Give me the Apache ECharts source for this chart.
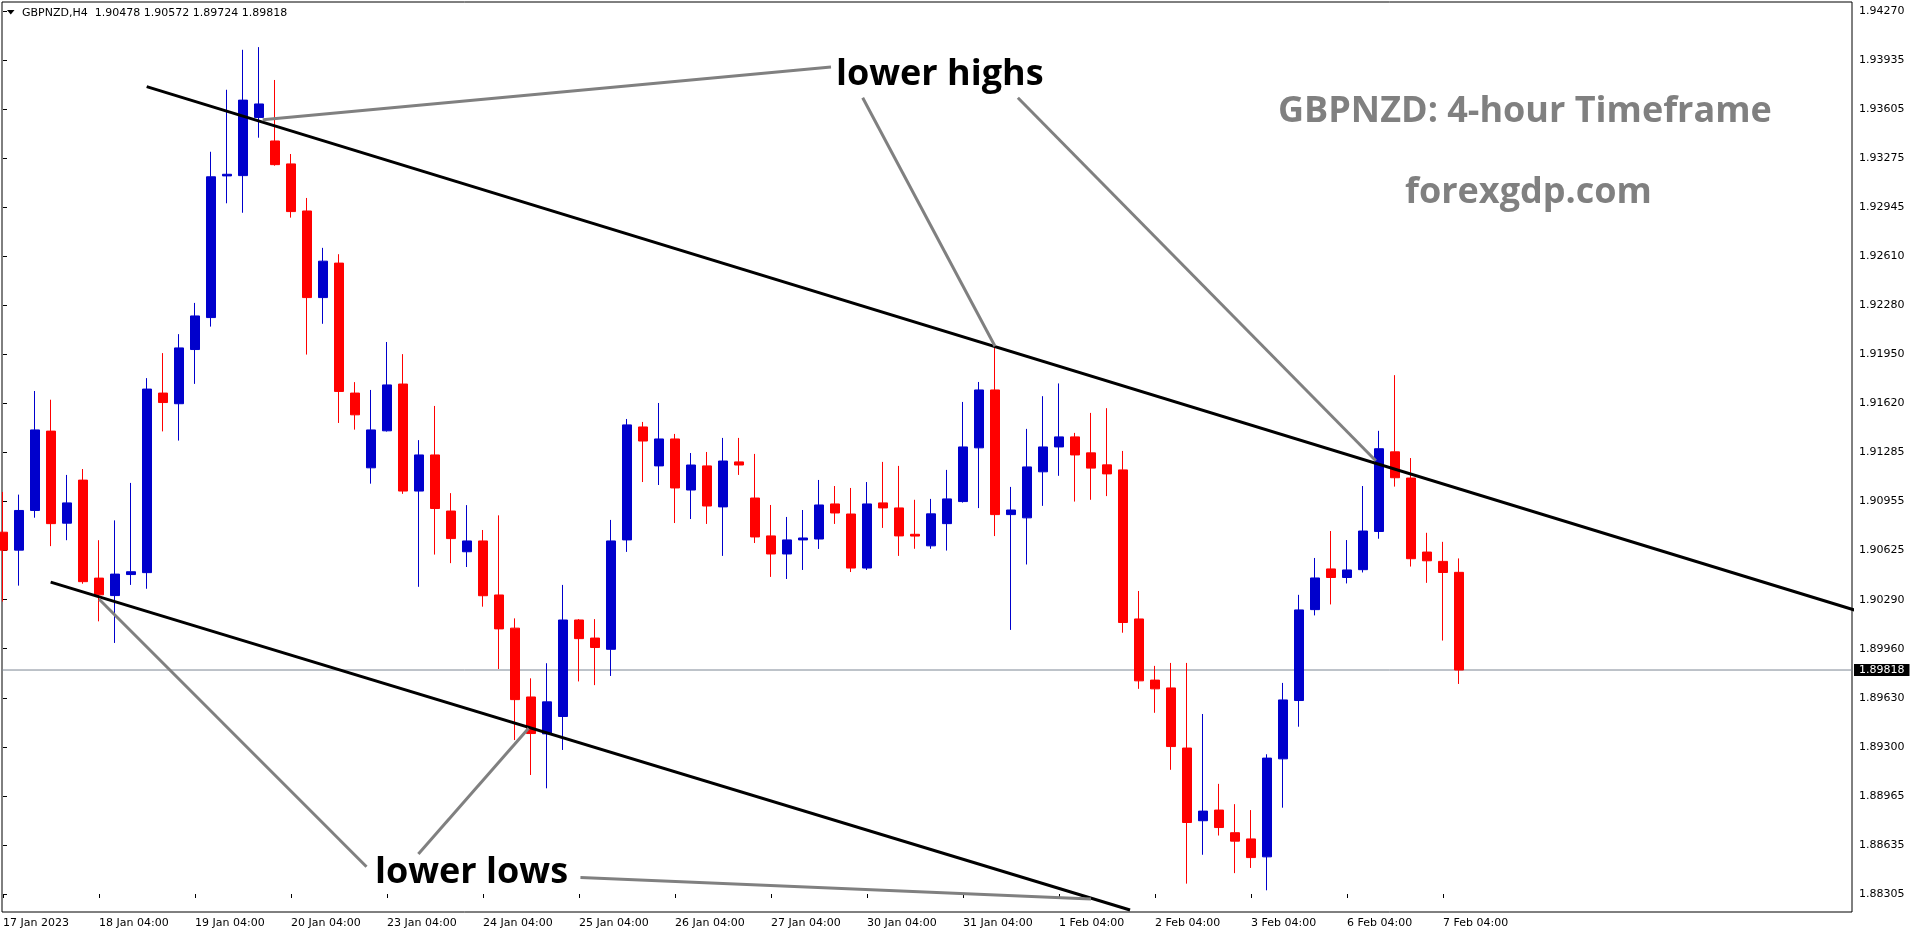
<!DOCTYPE html>
<html><head><meta charset="utf-8">
<script src="https://cdn.jsdelivr.net/npm/echarts@6/dist/echarts.min.js"></script>
<style>html,body{margin:0;padding:0;background:#fff;}#c{width:1916px;height:936px;}</style>
</head><body><div id="c"></div>
<script>
// ---- data (GBPNZD H4) ----
const symbol = 'GBPNZD,H4';
const opens = [
1.90749,1.90628,1.90896,1.91432,1.90810,1.91101,1.90439,1.90321,1.90463,1.90476,
1.91689,1.91617,1.91983,1.92199,1.93156,1.93158,1.93551,1.93392,1.93237,1.92919,
1.92334,1.92567,1.91689,1.91184,1.91434,1.91750,1.91027,1.91271,1.90892,1.90617,
1.90690,1.90325,1.90101,1.89636,1.89387,1.89504,1.90156,1.90034,1.89958,1.90697,
1.91460,1.91197,1.91379,1.91034,1.91197,1.90920,1.91224,1.90980,1.90724,1.90602,
1.90697,1.90703,1.90940,1.90872,1.90507,1.90947,1.90913,1.90735,1.90657,1.90807,
1.90956,1.91319,1.91710,1.90868,1.90846,1.91157,1.91325,1.91393,1.91285,1.91204,
1.91170,1.90163,1.89750,1.89697,1.89291,1.88800,1.88872,1.88719,1.88677,1.88556,
1.89218,1.89612,1.90226,1.90501,1.90443,1.90496,1.90754,1.91292,1.91115,1.90615,
1.90552,1.90478];
const closes = [
1.90628,1.90896,1.91440,1.90807,1.90947,1.90415,1.90326,1.90466,1.90482,1.91716,
1.91625,1.91994,1.92210,1.93150,1.93167,1.93668,1.93642,1.93232,1.92915,1.92334,
1.92580,1.91700,1.91542,1.91440,1.91744,1.91027,1.91271,1.90909,1.90706,1.90690,
1.90320,1.90096,1.89618,1.89389,1.89603,1.90156,1.90030,1.89970,1.90690,1.91474,
1.91365,1.91379,1.91048,1.91203,1.90926,1.91230,1.91203,1.90717,1.90602,1.90697,
1.90710,1.90933,1.90879,1.90507,1.90940,1.90913,1.90724,1.90723,1.90873,1.90974,
1.91325,1.91710,1.90868,1.90899,1.91190,1.91325,1.91393,1.91271,1.91182,1.91143,
1.90139,1.89745,1.89691,1.89301,1.88788,1.88865,1.88754,1.88662,1.88551,1.89223,
1.89616,1.90224,1.90440,1.90443,1.90494,1.90757,1.91313,1.91117,1.90570,1.90556,
1.90477,1.89818];
const lows = [
1.90281,1.90388,1.90847,1.90655,1.90695,1.90401,1.90147,1.90001,1.90393,1.90367,
1.91430,1.91368,1.91751,1.92138,1.92971,1.92907,1.93414,1.93225,1.92874,1.91949,
1.92157,1.91487,1.91442,1.91077,1.91429,1.91008,1.90380,1.90598,1.90540,1.90514,
1.90246,1.89825,1.89345,1.89109,1.89019,1.89278,1.89741,1.89716,1.89778,1.90616,
1.91088,1.91068,1.90811,1.90838,1.90805,1.90589,1.91136,1.90676,1.90447,1.90433,
1.90494,1.90636,1.90805,1.90480,1.90494,1.90778,1.90589,1.90637,1.90637,1.90625,
1.90949,1.90912,1.90723,1.90089,1.90531,1.90927,1.91130,1.90956,1.90968,1.90993,
1.90070,1.89691,1.89529,1.89144,1.88375,1.88570,1.88700,1.88446,1.88481,1.88330,
1.88888,1.89435,1.90187,1.90261,1.90403,1.90477,1.90705,1.91057,1.90517,1.90407,
1.90017,1.89724];
const highs = [
1.91021,1.91003,1.91703,1.91644,1.91136,1.91176,1.90695,1.90829,1.91082,1.91790,
1.91959,1.92087,1.92298,1.93319,1.93738,1.94008,1.94026,1.93804,1.93304,1.93007,
1.92670,1.92627,1.91763,1.91710,1.92034,1.91952,1.91371,1.91602,1.91013,1.90932,
1.90764,1.90863,1.90167,1.89762,1.89864,1.90393,1.90162,1.90162,1.90832,1.91514,
1.91494,1.91622,1.91413,1.91284,1.91291,1.91386,1.91386,1.91278,1.90933,1.90852,
1.90899,1.91102,1.91061,1.91048,1.91088,1.91224,1.91197,1.90968,1.90974,1.91170,
1.91629,1.91764,1.92005,1.91055,1.91447,1.91668,1.91754,1.91420,1.91555,1.91587,
1.91298,1.90352,1.89846,1.89866,1.89866,1.89521,1.89049,1.88912,1.88872,1.89249,
1.89731,1.90326,1.90575,1.90757,1.90696,1.91061,1.91434,1.91810,1.91250,1.90745,
1.90684,1.90572];
const xTickLabels = ['17 Jan 2023','18 Jan 04:00','19 Jan 04:00','20 Jan 04:00','23 Jan 04:00','24 Jan 04:00','25 Jan 04:00','26 Jan 04:00','27 Jan 04:00','30 Jan 04:00','31 Jan 04:00','1 Feb 04:00','2 Feb 04:00','3 Feb 04:00','6 Feb 04:00','7 Feb 04:00'];
const yTickLabels = ['1.88305','1.88635','1.88965','1.89300','1.89630','1.89960','1.90290','1.90625','1.90955','1.91285','1.91620','1.91950','1.92280','1.92610','1.92945','1.93275','1.93605','1.93935','1.94270'];
// channel lines and pointer lines: [bar index, price]
const upperChannel = [[8.98,1.93759],[116.06,1.90212]];
const lowerChannel = [[2.98,1.90412],[70.44,1.88197]];
const pointerLines = [
  [[16.23,1.93536],[51.75,1.93891]],
  [[53.73,1.93684],[62.0,1.92005]],
  [[63.43,1.93684],[85.8,1.91232]],
  [[6.01,1.90296],[22.72,1.88489]],
  [[25.96,1.88575],[32.85,1.89424]],
  [[36.09,1.88416],[68.0,1.88272]]
];
const annotations = ['lower highs','lower lows','GBPNZD: 4-hour Timeframe','forexgdp.com'];

// ---- layout ----
const plotL = 2, plotT = 2, plotR = 1852, plotB = 912;
const barPx = 16;
const tickTopY = 11, tickBotY = 894;
const lowTick = parseFloat(yTickLabels[0]), highTick = parseFloat(yTickLabels[yTickLabels.length-1]);
const pxPerUnit = (tickBotY - tickTopY) / (highTick - lowTick);
const yMin = lowTick - (plotB - tickBotY) / pxPerUnit;
const yMax = lowTick + (tickBotY - plotT) / pxPerUnit;
const xMin = -1 / barPx;
const xMax = xMin + (plotR - plotL) / barPx;
const lastIdx = opens.length - 1;
const labelSpan = (xTickLabels.length - 1) * 6;

const FONT = '"DejaVu Sans", sans-serif';
const ANN_FONT = 'bold 36px "Open Sans"';
const BULL = '#0000CC', BEAR = '#FF0000';

const candleData = opens.map((o, i) => [i, o, closes[i], lows[i], highs[i]]);

const lineSeries = (data, color, width, z) => ({
  type: 'line', xAxisIndex: 0, yAxisIndex: 0, data: data, symbol: 'none',
  lineStyle: { color: color, width: width }, clip: true, silent: true, z: z || 5, animation: false
});

const chart = echarts.init(document.getElementById('c'), null, { renderer: 'canvas' });
const header = symbol + '  ' + [opens[lastIdx], highs[lastIdx], lows[lastIdx], closes[lastIdx]].map(v => v.toFixed(5)).join(' ');

const priceLine = lineSeries([[xMin, closes[lastIdx]], [xMax, closes[lastIdx]]], '#7d8794', 1, 2);
priceLine.endLabel = {
  show: true, distance: 2, formatter: () => closes[lastIdx].toFixed(5),
  backgroundColor: '#000', color: '#fff', fontFamily: FONT, fontSize: 11,
  padding: [1, 5, 0, 5], lineHeight: 11
};

chart.setOption({
  backgroundColor: '#ffffff',
  animation: false,
  grid: [
    { left: plotL, top: plotT, width: plotR - plotL, height: plotB - plotT, show: true, borderColor: '#000', borderWidth: 1, backgroundColor: 'transparent' },
    { left: 3, top: tickTopY, width: labelSpan * barPx, height: tickBotY - tickTopY, show: false }
  ],
  xAxis: [
    { type: 'value', gridIndex: 0, min: xMin, max: xMax, show: false },
    { type: 'value', gridIndex: 1, min: 0, max: labelSpan, interval: 6, position: 'bottom', offset: plotB - tickBotY,
      axisLine: { show: false }, splitLine: { show: false },
      axisTick: { show: true, length: 4, lineStyle: { color: '#000', width: 1 } },
      axisLabel: { show: true, margin: 6, align: 'left', color: '#000', fontFamily: FONT, fontSize: 11,
        formatter: v => xTickLabels[Math.round(v / 6)] || '' } }
  ],
  yAxis: [
    { type: 'value', gridIndex: 0, min: yMin, max: yMax, show: false },
    { type: 'value', gridIndex: 1, min: 0, max: yTickLabels.length - 1, interval: 1, position: 'right',
      offset: plotR - (3 + labelSpan * barPx),
      axisLine: { show: false }, splitLine: { show: false },
      axisTick: { show: true, length: 4, lineStyle: { color: '#000', width: 1 } },
      axisLabel: { show: true, margin: 7, color: '#000', fontFamily: FONT, fontSize: 11,
        formatter: v => yTickLabels[Math.round(v)] || '' } }
  ],
  series: [
    priceLine,
    {
      type: 'candlestick', xAxisIndex: 0, yAxisIndex: 0, data: candleData,
      barWidth: 10, clip: true, silent: true, z: 3,
      itemStyle: { color: BULL, color0: BEAR, borderColor: BULL, borderColor0: BEAR, borderWidth: 1 }
    },
    lineSeries(upperChannel, '#000', 3),
    lineSeries(lowerChannel, '#000', 3),
    ...pointerLines.map(p => lineSeries(p, '#808080', 3))
  ],
  graphic: [
    { type: 'polygon', shape: { points: [[7, 10], [14.5, 10], [10.75, 14.5]] }, style: { fill: '#000' }, silent: true },
    { type: 'text', x: 22, y: 13, silent: true, style: { text: header, fill: '#000', font: '11px ' + FONT, align: 'left', verticalAlign: 'middle' } },
    { type: 'text', x: 836, y: 75, z: 10, silent: true, style: { text: annotations[0], fill: '#000', font: ANN_FONT, align: 'left', verticalAlign: 'middle' } },
    { type: 'text', x: 375, y: 873, z: 10, silent: true, style: { text: annotations[1], fill: '#000', font: ANN_FONT, align: 'left', verticalAlign: 'middle' } },
    { type: 'text', x: 1278, y: 112, z: 10, silent: true, style: { text: annotations[2], fill: '#808080', font: ANN_FONT, align: 'left', verticalAlign: 'middle' } },
    { type: 'text', x: 1405, y: 193, z: 10, silent: true, style: { text: annotations[3], fill: '#808080', font: ANN_FONT, align: 'left', verticalAlign: 'middle' } }
  ]
});
</script>
</body></html>
